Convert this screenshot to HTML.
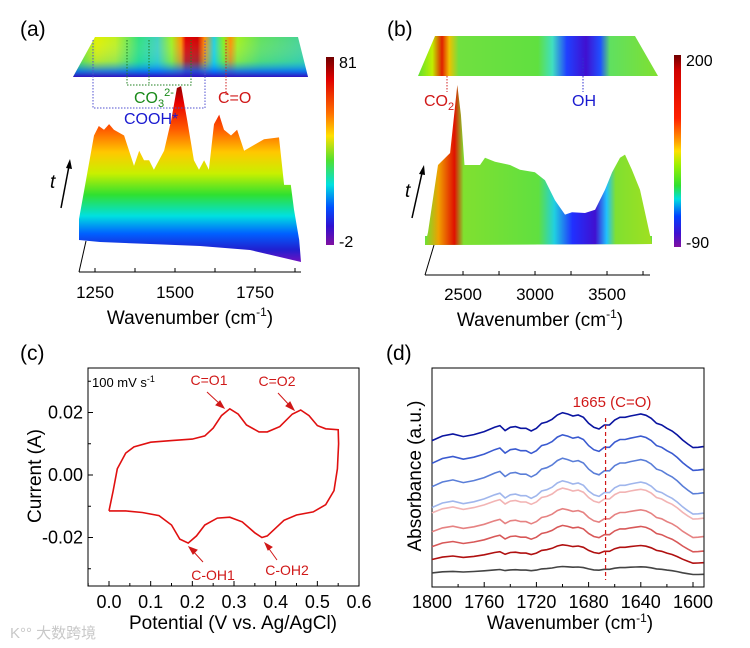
<!DOCTYPE html>
<html><head><meta charset="utf-8">
<style>
html,body{margin:0;padding:0;background:#fff;}
svg{display:block;font-family:"Liberation Sans",Arial,sans-serif;}
</style></head>
<body>
<svg id="fig" width="750" height="648" viewBox="0 0 750 648" xmlns="http://www.w3.org/2000/svg">
<defs>
<linearGradient id="gA" gradientUnits="userSpaceOnUse" x1="0" y1="85" x2="0" y2="262">
<stop offset="0" stop-color="#8a0000"/><stop offset="0.1" stop-color="#e80000"/><stop offset="0.25" stop-color="#ff5a00"/><stop offset="0.38" stop-color="#ffc800"/><stop offset="0.5" stop-color="#c8f000"/><stop offset="0.62" stop-color="#30e030"/><stop offset="0.74" stop-color="#00e0e0"/><stop offset="0.84" stop-color="#0060ff"/><stop offset="0.93" stop-color="#2020d0"/><stop offset="1" stop-color="#7010c0"/>
</linearGradient>
<linearGradient id="cbA" x1="0" y1="0" x2="0" y2="1">
<stop offset="0" stop-color="#700000"/><stop offset="0.12" stop-color="#e00000"/><stop offset="0.3" stop-color="#ff7000"/><stop offset="0.42" stop-color="#ffe000"/><stop offset="0.55" stop-color="#50e030"/><stop offset="0.68" stop-color="#00e0e0"/><stop offset="0.8" stop-color="#0050ff"/><stop offset="0.9" stop-color="#3010d0"/><stop offset="1" stop-color="#8010a0"/>
</linearGradient>
<linearGradient id="cbB" x1="0" y1="0" x2="0" y2="1">
<stop offset="0" stop-color="#700000"/><stop offset="0.08" stop-color="#d00000"/><stop offset="0.33" stop-color="#ff2000"/><stop offset="0.45" stop-color="#ffa000"/><stop offset="0.5" stop-color="#ffe000"/><stop offset="0.57" stop-color="#a0f000"/><stop offset="0.68" stop-color="#30e030"/><stop offset="0.75" stop-color="#00e0e0"/><stop offset="0.84" stop-color="#0040ff"/><stop offset="0.93" stop-color="#4010d0"/><stop offset="1" stop-color="#8010a0"/>
</linearGradient>
<linearGradient id="mapA" gradientUnits="userSpaceOnUse" x1="73" y1="0" x2="308" y2="0">
<stop offset="0" stop-color="#40e040"/><stop offset="0.1" stop-color="#e0f000"/><stop offset="0.18" stop-color="#c0f020"/><stop offset="0.28" stop-color="#30e080"/><stop offset="0.36" stop-color="#40d0c0"/><stop offset="0.42" stop-color="#a0f020"/><stop offset="0.46" stop-color="#ff9000"/><stop offset="0.48" stop-color="#e00000"/><stop offset="0.53" stop-color="#d00000"/><stop offset="0.56" stop-color="#ff9000"/><stop offset="0.6" stop-color="#20d0e0"/><stop offset="0.64" stop-color="#80f020"/><stop offset="0.67" stop-color="#ff9000"/><stop offset="0.7" stop-color="#a0f020"/><stop offset="0.8" stop-color="#60e060"/><stop offset="1" stop-color="#40d0a0"/>
</linearGradient>
<linearGradient id="mapAv" x1="0" y1="0" x2="0" y2="1">
<stop offset="0" stop-color="#fff" stop-opacity="0"/><stop offset="0.6" stop-color="#00c0ff" stop-opacity="0.2"/><stop offset="0.85" stop-color="#0060ff" stop-opacity="0.8"/><stop offset="1" stop-color="#3010c0" stop-opacity="1"/>
</linearGradient>
<linearGradient id="mapB" gradientUnits="userSpaceOnUse" x1="418" y1="0" x2="658" y2="0">
<stop offset="0" stop-color="#60e030"/><stop offset="0.06" stop-color="#c0f000"/><stop offset="0.1" stop-color="#e02000"/><stop offset="0.13" stop-color="#f0c000"/><stop offset="0.17" stop-color="#70e040"/><stop offset="0.5" stop-color="#60e040"/><stop offset="0.56" stop-color="#40e0c0"/><stop offset="0.62" stop-color="#2040ff"/><stop offset="0.7" stop-color="#4010d0"/><stop offset="0.76" stop-color="#2050ff"/><stop offset="0.8" stop-color="#60e060"/><stop offset="1" stop-color="#80e030"/>
</linearGradient>
<linearGradient id="gSurfB" gradientUnits="userSpaceOnUse" x1="425" y1="0" x2="652" y2="0">
<stop offset="0" stop-color="#70e030"/><stop offset="0.06" stop-color="#f0a000"/><stop offset="0.13" stop-color="#e01000"/><stop offset="0.17" stop-color="#80e030"/><stop offset="0.5" stop-color="#60e040"/><stop offset="0.57" stop-color="#20d0e0"/><stop offset="0.65" stop-color="#2030ff"/><stop offset="0.75" stop-color="#4010d0"/><stop offset="0.8" stop-color="#20c0ff"/><stop offset="0.84" stop-color="#80e030"/><stop offset="1" stop-color="#a0e020"/>
</linearGradient>
</defs>

<!-- Panel a -->
<g>
<text x="20" y="36" font-size="21">(a)</text>
<polygon points="95,37 298,37 308,77 73,77" fill="url(#mapA)"/>
<polygon points="95,37 298,37 308,77 73,77" fill="url(#mapAv)"/>
<path id="surfA" fill="url(#gA)"/>
<g fill="none" stroke-width="1" stroke-dasharray="1.5,1.5">
<polyline points="93,40 93,108 205,108 205,40" stroke="#5050d0"/>
<polyline points="127,40 127,85 191,85 191,40" stroke="#208020"/>
<line x1="149" y1="40" x2="149" y2="85" stroke="#208020"/>
<line x1="226" y1="40" x2="226" y2="95" stroke="#d02020"/>
</g>
<text x="134" y="103" font-size="16" fill="#1a8a1a">CO<tspan font-size="11" dy="4">3</tspan><tspan font-size="11" dy="-11">2-</tspan></text>
<text x="124" y="124" font-size="16" fill="#1a1ad0">COOH*</text>
<text x="218" y="103" font-size="16" fill="#d01818">C=O</text>
<text x="50" y="188" font-size="19" font-style="italic">t</text>
<line x1="61" y1="208" x2="69" y2="166" stroke="#000" stroke-width="1.5"/>
<polygon points="70,159 66,168 72,169" fill="#000"/>
<line x1="79" y1="272" x2="301" y2="272" stroke="#000"/>
<line x1="79" y1="272" x2="86" y2="241" stroke="#000"/>
<g id="ticksA"></g>
<text x="190" y="324" font-size="19" text-anchor="middle">Wavenumber (cm<tspan font-size="12" dy="-8">-1</tspan><tspan dy="8">)</tspan></text>
<rect x="326" y="57" width="8" height="188" fill="url(#cbA)"/>
<text x="339" y="68" font-size="16">81</text>
<text x="339" y="247" font-size="16">-2</text>
</g>

<!-- Panel b -->
<g>
<text x="387" y="36" font-size="21">(b)</text>
<polygon points="435,36 635,36 658,76 418,76" fill="url(#mapB)"/>
<polygon points="425,236 652,236 652,244 425,245" fill="#6ae040"/>
<path id="surfB" fill="url(#gSurfB)"/>
<line x1="447" y1="76" x2="447" y2="92" stroke="#d02020" stroke-dasharray="1.5,1.5"/>
<line x1="583" y1="58" x2="583" y2="92" stroke="#3030d0" stroke-dasharray="1.5,1.5"/>
<text x="424" y="106" font-size="16" fill="#d01818">CO<tspan font-size="11" dy="4">2</tspan></text>
<text x="572" y="106" font-size="16" fill="#1a1ad0">OH</text>
<text x="405" y="197" font-size="19" font-style="italic">t</text>
<line x1="412" y1="218" x2="422" y2="173" stroke="#000" stroke-width="1.5"/>
<polygon points="424,165 419,174 425,175" fill="#000"/>
<line x1="425" y1="275" x2="650" y2="275" stroke="#000"/>
<line x1="425" y1="275" x2="434" y2="245" stroke="#000"/>
<g id="ticksB"></g>
<text x="540" y="326" font-size="19" text-anchor="middle">Wavenumber (cm<tspan font-size="12" dy="-8">-1</tspan><tspan dy="8">)</tspan></text>
<rect x="674" y="55" width="7" height="192" fill="url(#cbB)"/>
<text x="686" y="66" font-size="16">200</text>
<text x="686" y="248" font-size="16">-90</text>
</g>

<!-- Panel c -->
<g>
<text x="20" y="360" font-size="21">(c)</text>
<rect x="88" y="368" width="271" height="218" fill="none" stroke="#000" stroke-width="1"/>
<g id="axesC"></g>
<path id="cvPath" fill="none" stroke="#e01010" stroke-width="1.6"/>
<text x="92" y="387" font-size="13">100 mV s<tspan font-size="9" dy="-5">-1</tspan></text>
<text x="209" y="385" font-size="14" fill="#d01818" text-anchor="middle">C=O1</text>
<text x="277" y="386" font-size="14" fill="#d01818" text-anchor="middle">C=O2</text>
<text x="213" y="580" font-size="14" fill="#d01818" text-anchor="middle">C-OH1</text>
<text x="287" y="575" font-size="14" fill="#d01818" text-anchor="middle">C-OH2</text>
<g stroke="#d01818" stroke-width="1" fill="#d01818">
<line x1="207" y1="392" x2="221" y2="405"/><polygon points="224,408 216,405 220,401"/>
<line x1="278" y1="393" x2="291" y2="407"/><polygon points="294,410 286,406 290,402"/>
<line x1="203" y1="562" x2="192" y2="550"/><polygon points="189,547 197,550 193,554"/>
<line x1="277" y1="560" x2="267" y2="546"/><polygon points="265,543 272,547 268,550"/>
</g>
<text transform="translate(41,476) rotate(-90)" font-size="19" text-anchor="middle">Current (A)</text>
<text x="233" y="629" font-size="19" text-anchor="middle">Potential (V vs. Ag/AgCl)</text>
</g>

<!-- Panel d -->
<g>
<text x="386" y="360" font-size="21">(d)</text>
<rect x="432" y="368" width="272" height="219" fill="none" stroke="#000" stroke-width="1"/>
<g id="axesD"></g>
<g id="specD"></g>
<line id="dashD" y1="418" y2="580" stroke="#d01818" stroke-width="1.2" stroke-dasharray="4,3"/>
<text x="612" y="407" font-size="15" fill="#d01818" text-anchor="middle">1665 (C=O)</text>
<text transform="translate(421,476) rotate(-90)" font-size="19" text-anchor="middle">Absorbance (a.u.)</text>
<text x="570" y="629" font-size="19" text-anchor="middle">Wavenumber (cm<tspan font-size="12" dy="-7">-1</tspan><tspan dy="7">)</tspan></text>
</g>
<text x="10" y="638" font-size="15" fill="#c8c8c8" font-family="'Liberation Sans','Noto Sans CJK SC',sans-serif">K°° 大数跨境</text>
</svg>

<script>
const NS='http://www.w3.org/2000/svg';
// ---- Panel a data ----
const aWave=[1200,1247,1262,1278,1294,1309,1341,1372,1388,1403,1419,1434,1466,1488,1506,1519,1538,1559,1575,1591,1606,1622,1638,1653,1675,1694,1716,1747,1778,1825,1841,1862,1872,1888];
const aHeight=[11,55,60,58,61,58,55,39,47,42,42,37,47,63,80,81,63,42,37,42,37,61,66,58,55,58,47,50,53,54,29,29,16,0];
const aTicks=[1250,1375,1500,1625,1750,1875];
const aTickLabels=['1250','1500','1750'];
// ---- Panel b data ----
const bWave=[2236,2257,2326,2410,2460,2485,2510,2618,2653,2722,2826,2896,2999,3069,3139,3208,3257,3347,3417,3486,3535,3590,3625,3673,3729,3798];
const bHeight=[0,16,100,115,200,163,100,100,109,104,100,94,91,81,56,38,41,40,44,69,91,109,113,94,69,13];
const bTicks=[2500,2750,3000,3250,3500,3750];
const bTickLabels=['2500','3000','3500'];
// ---- Panel c data ----
const cvPotential=[0.0,0.01,0.02,0.04,0.06,0.1,0.15,0.2,0.23,0.25,0.27,0.29,0.31,0.33,0.36,0.38,0.41,0.44,0.46,0.48,0.5,0.52,0.55,0.551,0.548,0.54,0.52,0.49,0.45,0.42,0.40,0.38,0.367,0.35,0.32,0.29,0.26,0.23,0.21,0.19,0.17,0.15,0.12,0.08,0.04,0.0];
const cvCurrent=[-0.0115,-0.005,0.002,0.007,0.009,0.0105,0.011,0.0115,0.0125,0.015,0.019,0.0212,0.0195,0.016,0.0138,0.0138,0.0155,0.0195,0.0208,0.019,0.0158,0.0148,0.0145,0.010,0.002,-0.005,-0.0095,-0.0118,-0.0128,-0.0145,-0.017,-0.0195,-0.0200,-0.0185,-0.015,-0.0135,-0.0138,-0.016,-0.0195,-0.0218,-0.0205,-0.016,-0.013,-0.012,-0.0115,-0.0115];
const cXTicks=[0.0,0.1,0.2,0.3,0.4,0.5,0.6];
const cXTickLabels=['0.0','0.1','0.2','0.3','0.4','0.5','0.6'];
const cYTicks=[-0.02,0.0,0.02];
const cYTickLabels=['-0.02','0.00','0.02'];
// ---- Panel d data ----
const dWave=[1800,1792,1784,1776,1768,1760,1752,1748,1744,1740,1736,1732,1728,1724,1720,1716,1712,1708,1704,1700,1696,1692,1688,1684,1680,1676,1672,1668,1664,1660,1656,1652,1648,1644,1640,1636,1632,1628,1624,1620,1616,1612,1608,1604,1600,1596,1592];
const dShape=[0.18,0.32,0.38,0.30,0.36,0.45,0.58,0.63,0.48,0.58,0.60,0.55,0.55,0.47,0.55,0.70,0.74,0.82,0.95,1.02,0.98,0.92,0.95,0.88,0.70,0.58,0.53,0.65,0.65,0.80,0.88,0.88,0.92,0.95,0.98,0.94,0.85,0.70,0.65,0.55,0.47,0.35,0.20,0.08,-0.03,-0.02,0];
const dOffsets=[6.41,5.37,4.30,3.37,3.14,2.30,1.64,1.11,0.58];
const dScales=[1.52,1.55,1.55,1.45,1.35,1.25,1.15,0.8,0.35];
const dColors=['#0a14a0','#3a5ad0','#5a7ed8','#a0b6ec','#f2b4b4','#e68282','#d85858','#b01010','#444444'];
const dXTicks=[1800,1760,1720,1680,1640,1600];
const dXTickLabels=['1800','1760','1720','1680','1640','1600'];
const dRefLine=[1667];

function mk(tag,attrs,parent){const e=document.createElementNS(NS,tag);for(const k in attrs)e.setAttribute(k,attrs[k]);parent.appendChild(e);return e;}

// Panel a
const axA=w=>79+(w-1200)*0.32, ayA=h=>240-h*1.9;
let d='M'+axA(aWave[0])+',240';
aWave.forEach((w,i)=>{d+=' L'+axA(w).toFixed(1)+','+ayA(aHeight[i]).toFixed(1);});
d+=' L301,262 L250,250 L200,246 L150,244 L100,242 L79,240 Z';
document.getElementById('surfA').setAttribute('d',d);
const tA=document.getElementById('ticksA');
aTicks.forEach(w=>{const l=mk('line',{x1:axA(w),x2:axA(w),y1:272,y2:268,stroke:'#000'},tA);

});
aTickLabels.forEach(s=>{const t=mk('text',{x:axA(+s),y:298,'font-size':17,'text-anchor':'middle'},tA);t.textContent=s;

});

// Panel b
const axB=w=>425+(w-2236)*0.144, ayB=h=>245-h*0.8;
d='M425,245';
bWave.forEach((w,i)=>{d+=' L'+axB(w).toFixed(1)+','+ayB(bHeight[i]).toFixed(1);});
d+=' L652,244 Z';
document.getElementById('surfB').setAttribute('d',d);
const tB=document.getElementById('ticksB');
bTicks.forEach(w=>{const l=mk('line',{x1:axB(w),x2:axB(w),y1:275,y2:271,stroke:'#000'},tB);

});
bTickLabels.forEach(s=>{const t=mk('text',{x:axB(+s),y:300,'font-size':17,'text-anchor':'middle'},tB);t.textContent=s;

});

// Panel c
const cx=v=>109+v*416.7, cy=v=>475-v*3125;
const gC=document.getElementById('axesC');
cXTicks.forEach((v,i)=>{const l=mk('line',{x1:cx(v),x2:cx(v),y1:586,y2:581,stroke:'#000'},gC);


const m=mk('line',{x1:cx(v-0.05),x2:cx(v-0.05),y1:586,y2:583,stroke:'#000'},gC);


const t=mk('text',{x:cx(v),y:608,'font-size':18,'text-anchor':'middle'},gC);t.textContent=cXTickLabels[i];

});
[-0.03,-0.01,0.01,0.03].forEach(v=>{const m=mk('line',{x1:88,x2:91,y1:cy(v),y2:cy(v),stroke:'#000'},gC);

});
cYTicks.forEach((v,i)=>{const l=mk('line',{x1:88,x2:93,y1:cy(v),y2:cy(v),stroke:'#000'},gC);


const t=mk('text',{x:83,y:cy(v)+6,'font-size':18,'text-anchor':'end'},gC);t.textContent=cYTickLabels[i];

});
d='';cvPotential.forEach((p,i)=>{d+=(i?' L':'M')+cx(p).toFixed(1)+','+cy(cvCurrent[i]).toFixed(1);});
document.getElementById('cvPath').setAttribute('d',d);

// Panel d
const dx=w=>432+(1800-w)*1.305, dy=v=>587-v*21.9;
const gD=document.getElementById('axesD');
dXTicks.forEach((w,i)=>{const l=mk('line',{x1:dx(w),x2:dx(w),y1:587,y2:582,stroke:'#000'},gD);


if(w-20>=1592){const m=mk('line',{x1:dx(w-20),x2:dx(w-20),y1:587,y2:584,stroke:'#000'},gD);

}
const t=mk('text',{x:dx(w),y:608,'font-size':18,'text-anchor':'middle'},gD);t.textContent=dXTickLabels[i];

});
const sD=document.getElementById('specD');
dOffsets.forEach((off,k)=>{let p='';dWave.forEach((w,i)=>{p+=(i?' L':'M')+dx(w).toFixed(1)+','+dy(off+dScales[k]*dShape[i]).toFixed(1);});
const e=mk('path',{d:p,fill:'none',stroke:dColors[k],'stroke-width':1.6},sD);

});
const dl=document.getElementById('dashD');dl.setAttribute('x1',dx(dRefLine[0]));dl.setAttribute('x2',dx(dRefLine[0]));
</script>
</body></html>
